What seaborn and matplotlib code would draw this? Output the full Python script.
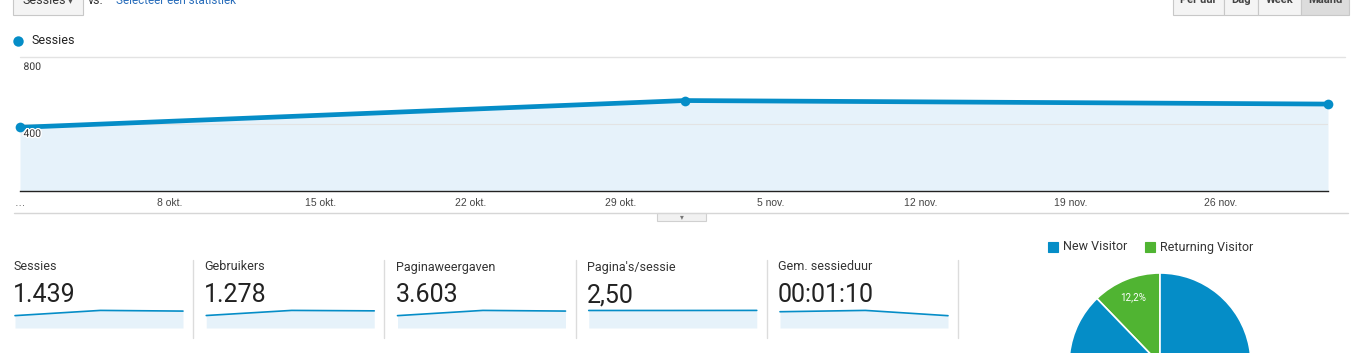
import matplotlib
matplotlib.use("Agg")
import matplotlib.pyplot as plt
from matplotlib.patches import Rectangle
from matplotlib.lines import Line2D
import matplotlib.patheffects as pe
import seaborn as sns
import pandas as pd

# ---------------- data ----------------
dates = pd.to_datetime(["2017-10-01", "2017-11-01", "2017-12-01"])
sessions = [380, 540, 519]
users = [338, 476, 464]
pageviews = [950, 1352, 1301]
pages_per_session = [2.50, 2.50, 2.51]
avg_duration_sec = [74, 80, 56]

tick_dates = pd.to_datetime(["2017-10-01", "2017-10-08", "2017-10-15", "2017-10-22",
                             "2017-10-29", "2017-11-05", "2017-11-12", "2017-11-19",
                             "2017-11-26"])
tick_labels = ["…", "8 okt.", "15 okt.", "22 okt.", "29 okt.", "5 nov.", "12 nov.",
               "19 nov.", "26 nov."]
y_ticks = [400, 800]

card_titles = ["Sessies", "Gebruikers", "Paginaweergaven", "Pagina's/sessie",
               "Gem. sessieduur"]
card_values = ["1.439", "1.278", "3.603", "2,50", "00:01:10"]
card_series = [sessions, users, pageviews, pages_per_session, avg_duration_sec]

visitor_types = ["New Visitor", "Returning Visitor"]
visitor_share = [87.8, 12.2]

period_buttons = ["Per uur", "Dag", "Week", "Maand"]

# ---------------- style ----------------
sns.set_theme(style="white")
plt.rcParams["font.family"] = ["Roboto", "DejaVu Sans"]

BLUE = "#058dc7"
GREEN = "#50b432"
FILL = "#e6f2fa"
W, H = 1365, 353

fig = plt.figure(figsize=(W / 100, H / 100), dpi=100)
fig.patch.set_facecolor("white")


def rect(x0, y0, x1, y1):
    return [x0 / W, 1 - y1 / H, (x1 - x0) / W, (y1 - y0) / H]


def ftext(x, y, s, **kw):
    fig.text(x / W, 1 - y / H, s, **kw)


def hline(x0, x1, y, color, lw=1.0):
    fig.add_artist(Line2D([x0 / W, x1 / W], [1 - y / H, 1 - y / H],
                          transform=fig.transFigure, color=color, lw=lw))


def vline(x, y0, y1, color, lw=1.0):
    fig.add_artist(Line2D([x / W, x / W], [1 - y0 / H, 1 - y1 / H],
                          transform=fig.transFigure, color=color, lw=lw))


def box(x0, y0, x1, y1, fc, ec):
    fig.add_artist(Rectangle((x0 / W, 1 - y1 / H), (x1 - x0) / W, (y1 - y0) / H,
                             transform=fig.transFigure, facecolor=fc, edgecolor=ec, lw=0.8))


# ---------------- top controls ----------------
box(13, -6, 83, 15, "#f4f4f4", "#c8c8c8")
ftext(22, 0, "Sessies", fontsize=9, color="#333333", va="center")
ftext(68, 0, "▾", fontsize=7, color="#555555", va="center", family=["DejaVu Sans"])
ftext(88, 0, "vs.", fontsize=9, color="#333333", va="center")
ftext(116, 0, "Selecteer een statistiek", fontsize=8.5, color="#2a6ebb", va="center")

btn_edges = [1173, 1224, 1258, 1301, 1349]
for i, lab in enumerate(period_buttons):
    fc = "#dcdcdc" if lab == "Maand" else "#f4f4f4"
    box(btn_edges[i], -6, btn_edges[i + 1], 15, fc, "#c8c8c8")
    ftext((btn_edges[i] + btn_edges[i + 1]) / 2, 0, lab, fontsize=8, color="#444444",
          va="center", ha="center", weight="bold")

# ---------------- legend of main chart ----------------
fig.add_artist(Line2D([18 / W], [1 - 41 / H], marker="o", markersize=7.5, color=BLUE,
                      markeredgewidth=0, transform=fig.transFigure))
ftext(32, 41, "Sessies", fontsize=9, color="#222222", va="center")

# ---------------- main chart ----------------
hline(20, 1345, 57, "#e3e3e3")
ax = fig.add_axes(rect(20, 57, 1328, 191))
ax.set_facecolor("none")
ax.fill_between(dates, sessions, 0, color=FILL, lw=0)
sns.lineplot(x=dates, y=sessions, ax=ax, color=BLUE, lw=3.4, marker="o",
             markersize=7, markeredgewidth=0, clip_on=False, zorder=5)
ax.set_xlim(dates[0], dates[-1])
ax.set_ylim(0, 800)
for v in y_ticks:
    if v < 800:
        ax.axhline(v, color="#e3e3e3", lw=0.8, zorder=1)
    ax.annotate(str(v), xy=(0, v), xycoords=("axes fraction", "data"),
                xytext=(2.5, -3.5), textcoords="offset points", va="top", ha="left",
                fontsize=7.5, color="#333333", zorder=6,
                path_effects=[pe.withStroke(linewidth=2, foreground="white")])
ax.set_yticks([])
ax.set_ylabel("")
ax.set_xlabel("")
ax.set_xticks(tick_dates)
ax.set_xticklabels(tick_labels, fontsize=7.5, color="#444444",
                   family=["Liberation Sans", "DejaVu Sans"])
ax.tick_params(axis="x", length=0, pad=5)
for s in ["top", "left", "right"]:
    ax.spines[s].set_visible(False)
ax.spines["bottom"].set_color("#222222")
ax.spines["bottom"].set_linewidth(1.0)

# collapse bar
hline(14, 1348, 213, "#d6d6d6")
box(657, 213, 706, 221, "#f1f1f1", "#d0d0d0")
ftext(681.5, 216.5, "▾", fontsize=5.5, color="#777777", va="center", ha="center",
      family=["DejaVu Sans"])

# ---------------- scorecards ----------------
step = 191.25
for i in range(5):
    x0 = 13 + step * i
    ftext(x0, 267, card_titles[i], fontsize=9, color="#333333", va="center")
    ftext(x0, 295, card_values[i], fontsize=18, color="#222222", va="center")
    sax = fig.add_axes(rect(15 + step * i, 309, 183 + step * i, 328))
    series = card_series[i]
    sax.fill_between(dates, series, 0, color=FILL, lw=0)
    sns.lineplot(x=dates, y=series, ax=sax, color=BLUE, lw=1.2, clip_on=False)
    sax.set_xlim(dates[0], dates[-1])
    sax.set_ylim(0, max(series) * 1.08)
    sax.axis("off")
    vline(193 + step * i, 260, 338, "#dcdcdc")

# ---------------- pie ----------------
ly = 247
box(1048, ly - 5, 1058, ly + 5, BLUE, BLUE)
ftext(1063, ly, visitor_types[0], fontsize=9, color="#333333", va="center")
box(1145, ly - 5, 1155, ly + 5, GREEN, GREEN)
ftext(1160, ly, visitor_types[1], fontsize=9, color="#333333", va="center")

r, cx, cy = 91, 1160, 364
pax = fig.add_axes(rect(cx - r, cy - r, cx + r, cy + r))
pie_vals = [visitor_share[1], visitor_share[0]]
wedges, texts = pax.pie(
    pie_vals, colors=[GREEN, BLUE], startangle=90, counterclock=True, radius=1,
    wedgeprops=dict(edgecolor="white", linewidth=1.2))
# label of the returning slice (the new-visitor label lies below the visible area)
w = wedges[0]
import numpy as np
mid = np.deg2rad((w.theta1 + w.theta2) / 2)
pax.text(0.79 * np.cos(mid), 0.79 * np.sin(mid),
         f"{visitor_share[1]:.1f}%".replace(".", ","), color="white", fontsize=7,
         ha="center", va="center")
pax.set_xlim(-1, 1)
pax.set_ylim(-1, 1)
pax.set_aspect("equal")
pax.axis("off")

fig.savefig("out.png", dpi=100, facecolor="white")
